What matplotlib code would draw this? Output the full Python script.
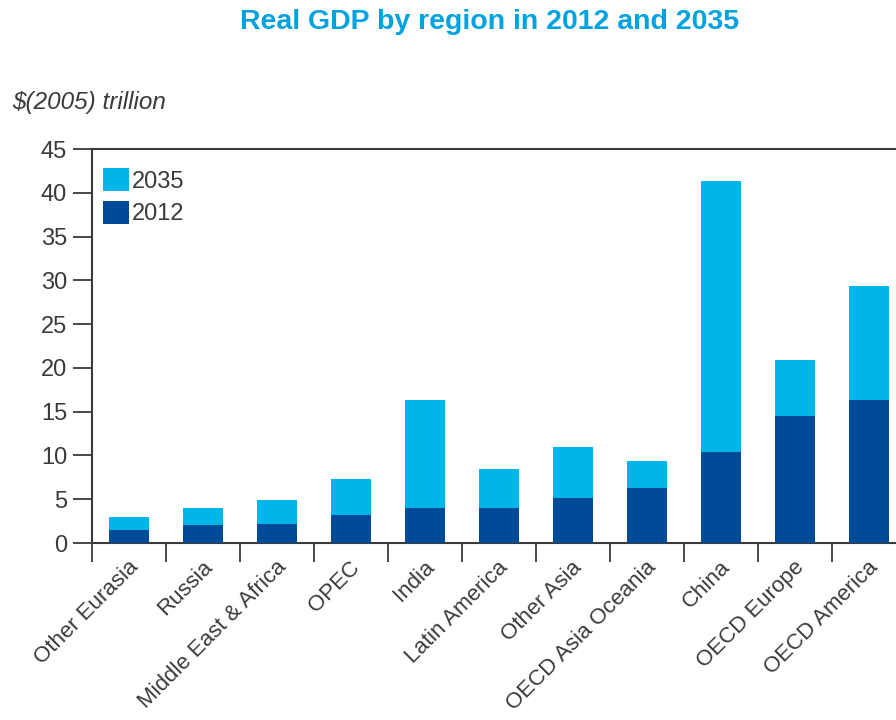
import numpy as np
import matplotlib
matplotlib.use("Agg")
import matplotlib.pyplot as plt
from matplotlib.ticker import FixedLocator

plt.rcParams['font.family'] = ['Liberation Sans', 'DejaVu Sans']

regions = ["Other Eurasia", "Russia", "Middle East & Africa", "OPEC", "India",
           "Latin America", "Other Asia", "OECD Asia Oceania", "China",
           "OECD Europe", "OECD America"]
gdp_2035 = [3.0, 4.05, 4.95, 7.35, 16.35, 8.45, 11.0, 9.4, 41.3, 20.85, 29.35]
gdp_2012 = [1.5, 2.0, 2.2, 3.25, 3.95, 4.0, 5.15, 6.3, 10.35, 14.55, 16.35]

light = "#00b5ea"
dark = "#004a98"
grey = "#3a3a3a"

fig = plt.figure(figsize=(8.96, 7.2), dpi=100)
ax = fig.add_axes([92/896, 1 - 543/720, 814/896, 394/720])

x = np.arange(len(regions))
ax.bar(x, gdp_2035, width=0.54, color=light, label="2035", zorder=2)
ax.bar(x, gdp_2012, width=0.54, color=dark, label="2012", zorder=3)

ax.set_xlim(-0.5, len(regions) - 0.5)
ax.set_ylim(0, 45)
ax.set_yticks(np.arange(0, 46, 5))

# category labels drawn by hand so they can sit right of the bar centre
ax.set_xticks([])
for xi, name in zip(x, regions):
    ax.annotate(name, xy=(xi, 0), xycoords=("data", "axes fraction"),
                xytext=(-1, -10), textcoords="offset points",
                rotation=45, ha="right", va="top", rotation_mode="anchor",
                fontsize=16, color=grey, annotation_clip=False)
ax.xaxis.set_minor_locator(FixedLocator(np.arange(-0.5, len(regions), 1.0)))
ax.tick_params(axis="x", which="minor", length=14, width=1.3, color=grey, direction="out")
ax.tick_params(axis="y", length=14, width=1.3, color=grey, labelsize=17,
               labelcolor=grey, pad=4)

for s in ["left", "bottom", "top"]:
    ax.spines[s].set_linewidth(1.5)
    ax.spines[s].set_color(grey)
ax.spines["right"].set_visible(False)

leg = ax.legend(loc="upper left", bbox_to_anchor=(-0.007, 0.993), frameon=False,
                fontsize=17, handlelength=1.1, handleheight=1.1,
                handletextpad=0.15, labelspacing=0.35, borderaxespad=0.3)
for t in leg.get_texts():
    t.set_color(grey)

fig.text(12/896, 1 - 103/720, "$(2005) trillion", fontsize=17.5, style="italic",
         color=grey, va="center", ha="left")
fig.text(490/896, 1 - 22/720, "Real GDP by region in 2012 and 2035",
         fontsize=20.5, fontweight="bold", color="#00a3e0", ha="center", va="center")

fig.savefig("out.png", dpi=100)
